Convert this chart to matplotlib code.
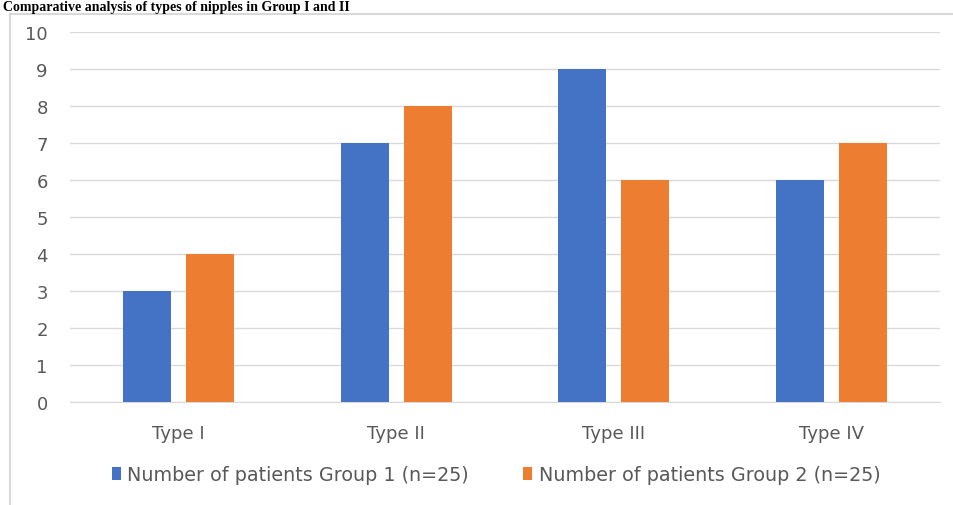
import numpy as np
from matplotlib import pyplot as plt
from matplotlib.patches import Rectangle

categories = ["Type I", "Type II", "Type III", "Type IV"]
group1 = [3, 7, 9, 6]
group2 = [4, 8, 6, 7]
series_names = ["Number of patients Group 1 (n=25)", "Number of patients Group 2 (n=25)"]
title = "Comparative analysis of types of nipples in Group I and II"

plt.rcParams["font.family"] = ["DejaVu Sans"]

fig = plt.figure(figsize=(9.54, 5.06), dpi=100)

# outer chart border, like the spreadsheet chart frame
fig.patches.append(Rectangle((10 / 954, -0.01), 1.0, (506 - 15) / 506 + 0.01,
                             transform=fig.transFigure, fill=False,
                             edgecolor="#d9d9d9", linewidth=1.5))

# title sits in the thin strip above the chart frame
fig.text(0.003, (506 - 7) / 506, title, ha="left", va="center", fontsize=10,
         fontweight="bold", family="Liberation Serif", color="black")

ax = fig.add_axes([70 / 954, (506 - 403) / 506, 870 / 954, 370 / 506])
x = np.arange(len(categories))
w = 0.22
ax.bar(x - 0.145, group1, w, color="#4472C4", label=series_names[0], zorder=3)
ax.bar(x + 0.145, group2, w, color="#ED7D31", label=series_names[1], zorder=3)

ax.set_xlim(-0.5, len(categories) - 0.5)
ax.set_ylim(0, 10)
ax.set_yticks(range(0, 11))
ax.set_xticks(x)
ax.set_xticklabels(categories)
ax.grid(axis="y", color="#d9d9d9", linewidth=1, zorder=0)
for s in ["top", "right", "left"]:
    ax.spines[s].set_visible(False)
ax.spines["bottom"].set_color("#d9d9d9")
ax.tick_params(length=0, colors="#595959", labelsize=13)
ax.tick_params(axis="x", pad=16)
ax.tick_params(axis="y", pad=16)

fig.legend(loc="center", bbox_to_anchor=(496 / 954, (506 - 476) / 506), ncol=2,
           frameon=False, fontsize=13.8, labelcolor="#595959", handlelength=0.47,
           handleheight=0.65, handletextpad=0.36, columnspacing=2.8)

fig.savefig("out.png", dpi=100)
